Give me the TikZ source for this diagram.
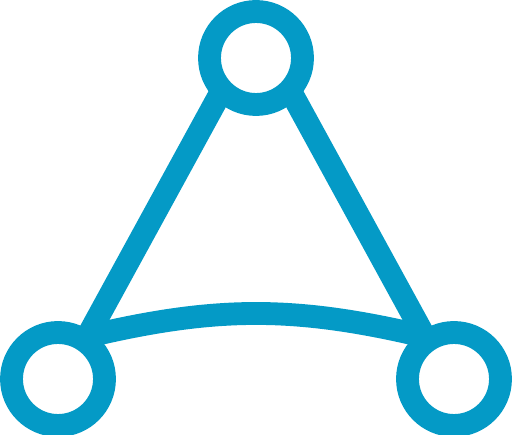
\documentclass[tikz,border=0pt]{standalone}
\usepackage{tikz}
\usetikzlibrary{backgrounds}

\definecolor{linkblue}{RGB}{4,154,198}

\begin{document}
\begin{tikzpicture}[x=0.02cm, y=-0.02cm, ring/.style = {circle, draw=linkblue, fill=white, line width=13pt, minimum size=1.86cm, inner sep=0pt}, link/.style = {draw=linkblue, line width=13pt}]

    \useasboundingbox (0, 0) rectangle (512, 435);

    \node at (256, 58) [ring] (top) {};
    \node at (58, 379) [ring] (left) {};
    \node at (454, 379) [ring] (right) {};

    \begin{scope}[on background layer]
        \draw[link, shorten <=-15pt, shorten >=-15pt] (top.227) -- (left.56);
        \draw[link, shorten <=-15pt, shorten >=-15pt] (top.313) -- (right.124);
        \draw[link] (left.50) to[out=13, in=167] (right.130);
    \end{scope}
\end{tikzpicture}
\end{document}
